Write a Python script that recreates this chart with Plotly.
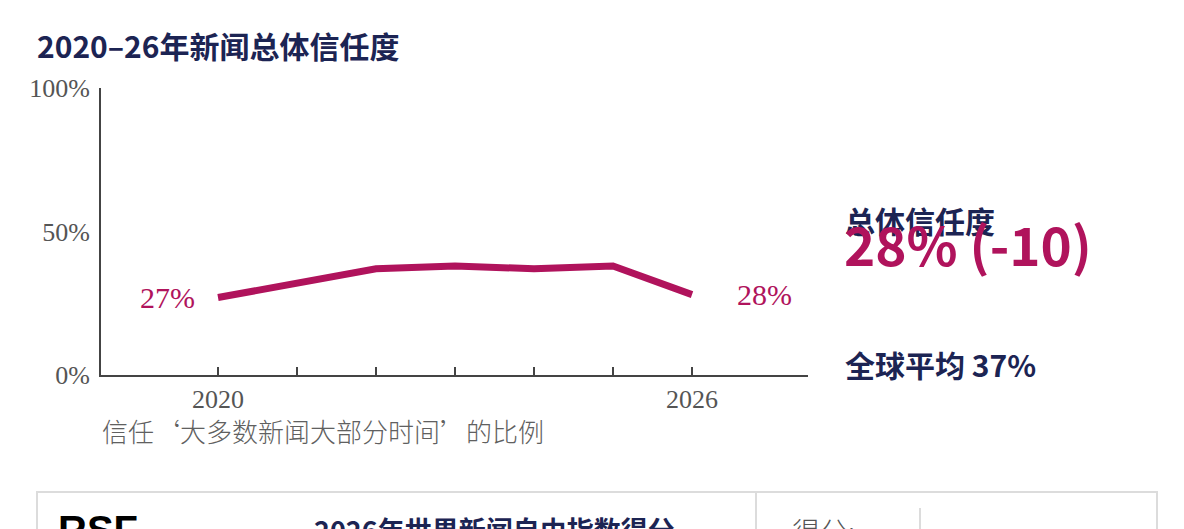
import plotly.graph_objects as go

# ---- data ----
years = [2020, 2021, 2022, 2023, 2024, 2025, 2026]
trust = [27, 32, 37, 38, 37, 38, 28]
x_tick_text = ["2020", "", "", "", "", "", "2026"]
y_tick_vals = [0, 50, 100]
y_tick_text = ["0%", "50%", "100%"]
title_text = "2020–26年新闻总体信任度"
axis_caption = "信任‘大多数新闻大部分时间’的比例"
side_label = "总体信任度"
side_value = "28% (-10)"
global_avg = "全球平均 37%"
box_title = "2026年世界新闻自由指数得分"
box_score = "得分:"

W, H = 1184, 529
L, R, T, B = 101, 808, 88, 375  # plot area in pixels

NAVY = "#1c2453"
MAGENTA = "#b0135c"
GREY = "#555555"
CJK = "Noto Sans CJK SC"
SERIF = "Liberation Serif"


def px(x):
    return (x - L) / (R - L)


def py(y):
    return (B - y) / (B - T)


fig = go.Figure()
fig.add_trace(go.Scatter(
    x=years, y=trust, mode="lines",
    line=dict(color=MAGENTA, width=7),
    hoverinfo="skip", cliponaxis=False,
))

annotations = [
    dict(text=f"{trust[0]}%", x=years[0], y=trust[0], xref="x", yref="y",
         xanchor="right", yanchor="middle", xshift=-21, showarrow=False,
         font=dict(family=SERIF, size=30, color=MAGENTA)),
    dict(text=f"{trust[-1]}%", x=years[-1], y=trust[-1], xref="x", yref="y",
         xanchor="left", yanchor="middle", xshift=43, showarrow=False,
         font=dict(family=SERIF, size=30, color=MAGENTA)),
    dict(text=f"<b>{title_text}</b>", x=px(35), y=py(45), xref="paper", yref="paper",
         xanchor="left", yanchor="middle", showarrow=False,
         font=dict(family=CJK, size=30, color=NAVY)),
    dict(text=axis_caption, x=px(100), y=py(430), xref="paper", yref="paper",
         xanchor="left", yanchor="middle", showarrow=False,
         font=dict(family=CJK, size=26, color="#606060", weight=300)),
    dict(text=f"<b>{side_label}</b>", x=px(843), y=py(220), xref="paper", yref="paper",
         xanchor="left", yanchor="middle", showarrow=False,
         font=dict(family=CJK, size=30, color=NAVY)),
    dict(text=f"<b>{side_value}</b>", x=px(842), y=py(243), xref="paper", yref="paper",
         xanchor="left", yanchor="middle", showarrow=False,
         font=dict(family=CJK, size=53, color=MAGENTA)),
    dict(text=f"<b>{global_avg}</b>", x=px(843), y=py(364), xref="paper", yref="paper",
         xanchor="left", yanchor="middle", showarrow=False,
         font=dict(family=CJK, size=30, color=NAVY)),
    dict(text=f"<b>{box_title}</b>", x=px(312), y=py(529), xref="paper", yref="paper",
         xanchor="left", yanchor="middle", showarrow=False,
         font=dict(family=CJK, size=27, color=NAVY)),
    dict(text=box_score, x=px(790), y=py(531), xref="paper", yref="paper",
         xanchor="left", yanchor="middle", showarrow=False,
         font=dict(family=CJK, size=28, color=GREY, weight=300)),
    dict(text="<b>RSF</b>", x=px(56), y=py(530), xref="paper", yref="paper",
         xanchor="left", yanchor="middle", showarrow=False,
         font=dict(family="Liberation Sans", size=40, color="#000000")),
]

shapes = [
    dict(type="rect", xref="paper", yref="paper",
         x0=px(37), x1=px(1157), y0=py(560), y1=py(492),
         line=dict(color="#dcdcdc", width=2)),
    dict(type="line", xref="paper", yref="paper",
         x0=px(756), x1=px(756), y0=py(560), y1=py(492),
         line=dict(color="#dcdcdc", width=2)),
    dict(type="line", xref="paper", yref="paper",
         x0=px(920), x1=px(920), y0=py(560), y1=py(508),
         line=dict(color="#dcdcdc", width=2)),
]

fig.update_layout(
    width=W, height=H,
    margin=dict(l=L, r=W - R, t=T, b=H - B, pad=0),
    paper_bgcolor="white", plot_bgcolor="white",
    showlegend=False,
    annotations=annotations, shapes=shapes,
    xaxis=dict(
        range=[years[0] - 117 / 79, years[-1] + 116 / 79],
        tickvals=years, ticktext=x_tick_text,
        ticks="inside", ticklen=8, tickwidth=2, tickcolor="#444444",
        showline=True, linecolor="#444444", linewidth=2,
        showgrid=False, zeroline=False,
        tickfont=dict(family=SERIF, size=26, color=GREY),
        fixedrange=True,
    ),
    yaxis=dict(
        range=[0, 100],
        tickvals=y_tick_vals, ticktext=y_tick_text,
        ticks="", showline=True, linecolor="#444444", linewidth=2,
        showgrid=False, zeroline=False, ticklabelstandoff=4,
        tickfont=dict(family=SERIF, size=26, color=GREY),
        fixedrange=True,
    ),
)

fig.write_html("out.html")
